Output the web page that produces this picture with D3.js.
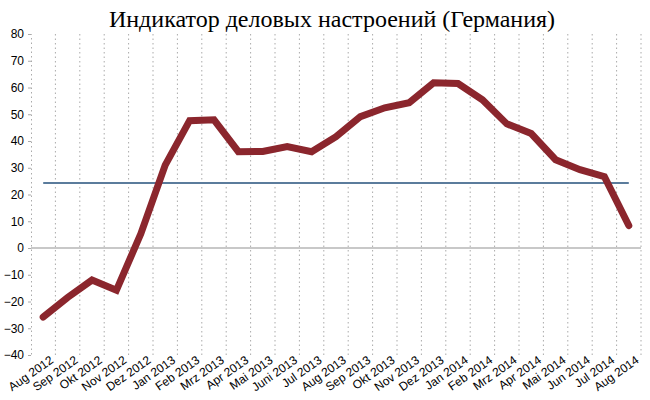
<!DOCTYPE html>
<html>
<head>
<meta charset="utf-8">
<script src="https://cdn.jsdelivr.net/npm/d3@7"></script>
<style>
  html, body { margin: 0; padding: 0; background: #fff; }
  svg { display: block; }
</style>
</head>
<body>
<svg id="chart" width="650" height="400"></svg>
<script>
const title = "Индикатор деловых настроений (Германия)";
const months = ["Aug 2012","Sep 2012","Okt 2012","Nov 2012","Dez 2012","Jan 2013","Feb 2013","Mrz 2013","Apr 2013","Mai 2013","Juni 2013","Jul 2013","Aug 2013","Sep 2013","Okt 2013","Nov 2013","Dez 2013","Jan 2014","Feb 2014","Mrz 2014","Apr 2014","Mai 2014","Jun 2014","Jul 2014","Aug 2014"];
const values = [-25.8, -18.5, -12.0, -15.8, 5.3, 31.0, 47.6, 47.9, 36.0, 36.1, 37.9, 36.0, 41.6, 49.1, 52.4, 54.3, 61.8, 61.5, 55.4, 46.4, 42.8, 33.0, 29.3, 26.7, 8.4];
const referenceValue = [24.3];
const yTicks = [80, 70, 60, 50, 40, 30, 20, 10, 0, -10, -20, -30, -40];

const svg = d3.select("#chart");
const margin = {left: 31, right: 9, top: 34, bottom: 45};
const W = 650, H = 400;

const x = d3.scaleBand().domain(months).range([margin.left, W - margin.right]).padding(0);
const y = d3.scaleLinear().domain([-40, 80]).range([H - margin.bottom, margin.top]);

// Title
svg.append("text")
  .attr("x", 332).attr("y", 27)
  .attr("text-anchor", "middle")
  .attr("font-family", "'Liberation Serif', 'Times New Roman', serif")
  .attr("font-size", 24)
  .attr("fill", "#000")
  .text(title);

// vertical dotted gridlines at band boundaries
const bounds = months.map(m => x(m) + x.bandwidth());
svg.append("g").selectAll("line").data(bounds).join("line")
  .attr("x1", d => d).attr("x2", d => d)
  .attr("y1", y(80)).attr("y2", y(-40))
  .attr("stroke", "#aaa").attr("stroke-width", 1)
  .attr("stroke-dasharray", "1.5,3");

// zero line
svg.append("line")
  .attr("x1", margin.left).attr("x2", W - margin.right)
  .attr("y1", y(0)).attr("y2", y(0))
  .attr("stroke", "#c8c8c8").attr("stroke-width", 2);

// y axis
const yAxis = d3.axisLeft(y).tickValues(yTicks).tickSize(3).tickPadding(4);
const gy = svg.append("g").attr("transform", `translate(${margin.left},0)`).call(yAxis);
gy.select(".domain").attr("stroke", "#aaa").attr("stroke-dasharray", "1.5,3");
gy.selectAll(".tick line").attr("stroke", "#aaa");
gy.selectAll("text").attr("font-family", "'Liberation Sans', Arial, sans-serif").attr("font-size", 12).attr("fill", "#000");

// x axis labels
const xAxis = d3.axisBottom(x).tickSize(0).tickPadding(0);
const gx = svg.append("g").attr("transform", `translate(0,${H - margin.bottom})`).call(xAxis);
gx.select(".domain").remove();
gx.selectAll("text")
  .attr("font-family", "'Liberation Sans', Arial, sans-serif")
  .attr("font-size", 12).attr("fill", "#000")
  .attr("text-anchor", "end")
  .attr("dy", "0")
  .attr("transform", "translate(11,7) rotate(-35)");

// reference line
svg.append("g").selectAll("line").data(referenceValue).join("line")
  .attr("x1", x(months[0]) + x.bandwidth()/2)
  .attr("x2", x(months[months.length-1]) + x.bandwidth()/2)
  .attr("y1", d => y(d)).attr("y2", d => y(d))
  .attr("stroke", "#5b7c9c").attr("stroke-width", 2);

// data line
const line = d3.line().x((d,i) => x(months[i]) + x.bandwidth()/2).y(d => y(d));
svg.append("path").datum(values)
  .attr("d", line)
  .attr("fill", "none")
  .attr("stroke", "#8b262d")
  .attr("stroke-width", 7)
  .attr("stroke-linejoin", "miter")
  .attr("stroke-linecap", "round");
</script>
</body>
</html>
